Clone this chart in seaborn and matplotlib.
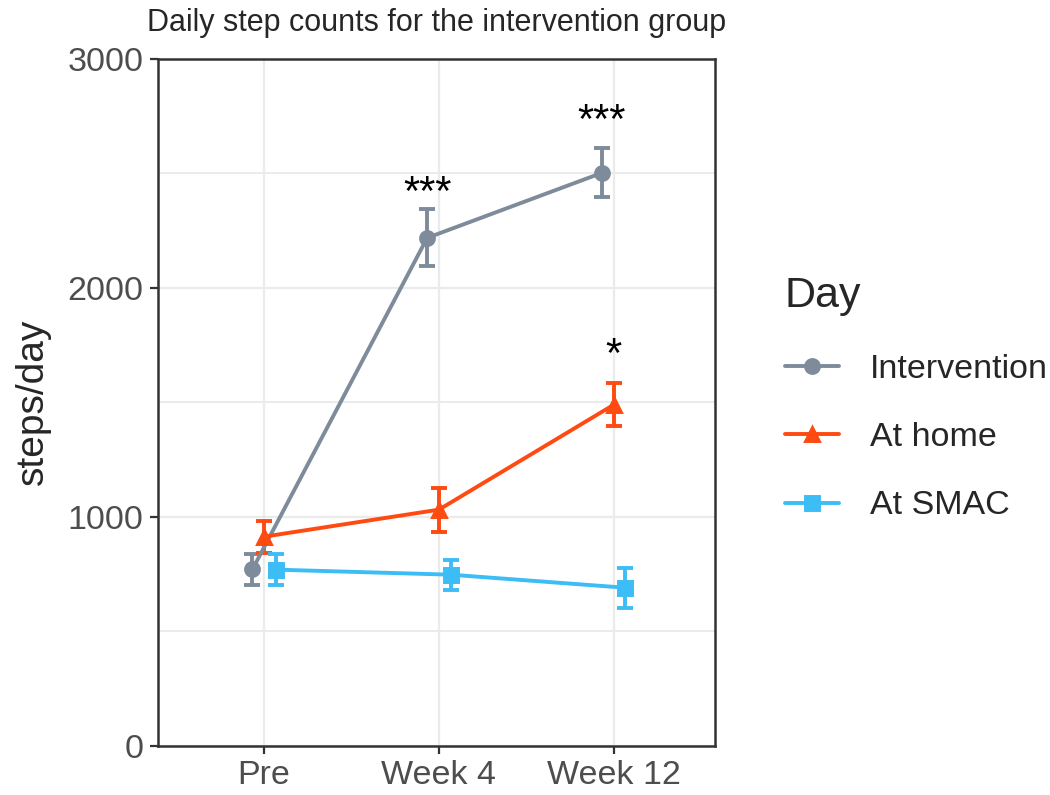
import numpy as np
import pandas as pd
import matplotlib
matplotlib.use("Agg")
import matplotlib.pyplot as plt
import seaborn as sns

# dados (médias e erro padrão)
visits = ["Pre", "Week 4", "Week 12"]
groups = ["Intervention", "At home", "At SMAC"]
intervention_mean = [770, 2218, 2502]
intervention_se = [68, 125, 107]
home_mean = [913, 1031, 1489]
home_se = [70, 96, 94]
smac_mean = [769, 747, 690]
smac_se = [68, 65, 87]

# asteriscos de significância: (grupo, visita, texto, altura)
sig_labels = [("Intervention", "Week 4", "***", 2410),
              ("Intervention", "Week 12", "***", 2725),
              ("At home", "Week 12", "*", 1700)]

palette = {"Intervention": "#7D8B9B", "At home": "#FF4A12", "At SMAC": "#3CBDF5"}
markers = {"Intervention": "o", "At home": "^", "At SMAC": "s"}

df = pd.DataFrame({
    "visit": visits * 3,
    "group": np.repeat(groups, 3),
    "steps": intervention_mean + home_mean + smac_mean,
    "se": intervention_se + home_se + smac_se,
})

sns.set_theme(style="white")
plt.rcParams["font.family"] = ["Liberation Sans", "DejaVu Sans"]

fig = plt.figure(figsize=(10.5, 7.95), dpi=100)
ax = fig.add_axes([0.150, 0.062, 0.531, 0.864])

dodge = 0.134
sns.pointplot(data=df, x="visit", y="steps", hue="group", order=visits,
              hue_order=groups, palette=palette,
              markers=[markers[g] for g in groups], linestyles="-",
              dodge=dodge, errorbar=None, markersize=10, linewidth=2.8, ax=ax)

# barras de erro nas mesmas posições deslocadas
step = dodge / (len(groups) - 1)
for i, g in enumerate(groups):
    sub = df[df["group"] == g].set_index("visit").loc[visits]
    xpos = np.arange(len(visits)) + (i - 1) * step
    ax.errorbar(xpos, sub["steps"], yerr=sub["se"], fmt="none",
                ecolor=palette[g], elinewidth=2.8, capsize=5.5, capthick=2.8,
                zorder=1.5)

for g, v, txt, y in sig_labels:
    i = groups.index(g)
    x = visits.index(v) + (i - 1) * step
    ax.text(x, y, txt, ha="center", va="center", fontsize=30, color="black")

ax.set_ylim(0, 3000)
ax.set_xlim(-0.61, 2.58)
ax.set_yticks([0, 1000, 2000, 3000])
ax.set_yticks([500, 1500, 2500], minor=True)
ax.grid(True, which="major", axis="both", color="#EBEBEB", lw=1.6)
ax.grid(True, which="minor", axis="y", color="#EBEBEB", lw=1.4)
ax.set_axisbelow(True)
ax.tick_params(axis="y", which="minor", length=0)
ax.tick_params(axis="both", which="major", length=6, width=1.6,
               color="#333333", labelsize=24.5, labelcolor="#4D4D4D",
               bottom=True, left=True, pad=4)
for s in ax.spines.values():
    s.set_color("#333333")
    s.set_linewidth(1.8)

ax.set_xlabel("")
ax.set_ylabel("steps/day", fontsize=28, labelpad=12)
ax.set_title("Daily step counts for the intervention group", fontsize=22, pad=20)

handles, labels = ax.get_legend_handles_labels()
ax.legend(handles, labels, title="Day", loc="center left",
          bbox_to_anchor=(1.07, 0.505), frameon=False, fontsize=24.5,
          title_fontsize=31, handlelength=1.6, labelspacing=1.1,
          handletextpad=0.9, alignment="left")

fig.savefig("out.png", dpi=100)
